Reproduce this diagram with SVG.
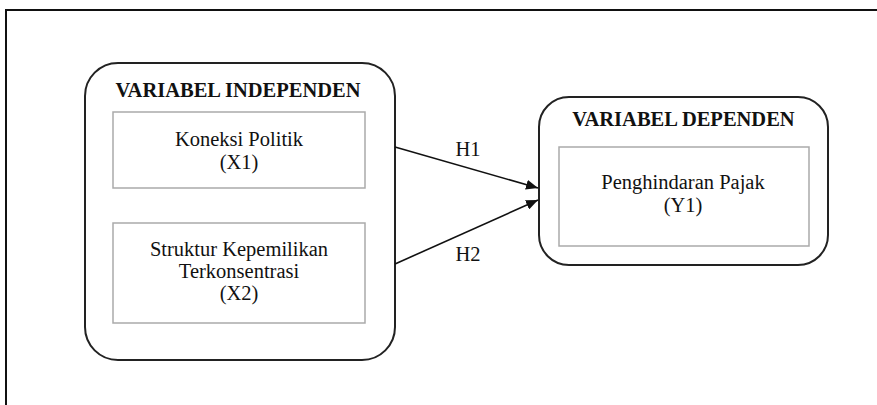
<svg xmlns="http://www.w3.org/2000/svg" width="877" height="405" viewBox="0 0 877 405">
<style>
.t{font-family:"Liberation Serif","Times New Roman",serif;fill:#111;text-anchor:middle;font-size:20.5px}
.b{font-weight:bold;font-size:20.5px}
.outer{fill:#fff;stroke:#222;stroke-width:2}
.inner{fill:#fff;stroke:#aaa;stroke-width:1.5}
.c{stroke:#111;stroke-width:1.6;fill:none}
</style>
<defs>
<marker id="ah" viewBox="0 0 12 10" refX="12" refY="5" markerWidth="12" markerHeight="10" markerUnits="userSpaceOnUse" orient="auto">
<path d="M0,0 L12,5 L0,10 z" fill="#111"/>
</marker>
</defs>
<rect width="877" height="405" fill="#fff"/>
<polyline points="6,405 6,10 877,10" fill="none" stroke="#111" stroke-width="2"/>
<g id="independen">
<rect class="outer" x="85" y="63" width="310" height="297" rx="33" ry="33"/>
<text class="t b" x="238" y="97">VARIABEL INDEPENDEN</text>
</g>
<g id="x1">
<rect class="inner" x="113" y="112" width="252" height="76"/>
<text class="t" x="239" y="146">Koneksi Politik</text>
<text class="t" x="239" y="169">(X1)</text>
</g>
<g id="x2">
<rect class="inner" x="113" y="223" width="252" height="100"/>
<text class="t" x="239" y="256">Struktur Kepemilikan</text>
<text class="t" x="239" y="278">Terkonsentrasi</text>
<text class="t" x="239" y="300">(X2)</text>
</g>
<g id="dependen">
<rect class="outer" x="539" y="97" width="289" height="168" rx="30" ry="30"/>
<text class="t b" x="683.5" y="126">VARIABEL DEPENDEN</text>
</g>
<g id="y1">
<rect class="inner" x="559" y="147" width="250" height="99"/>
<text class="t" x="683" y="189">Penghindaran Pajak</text>
<text class="t" x="683" y="212">(Y1)</text>
</g>
<g id="connectors">
<line class="c" x1="395" y1="147" x2="538" y2="188" marker-end="url(#ah)"/>
<line class="c" x1="395" y1="264" x2="538" y2="200" marker-end="url(#ah)"/>
<text class="t" x="468" y="156">H1</text>
<text class="t" x="468" y="261">H2</text>
</g>
</svg>
